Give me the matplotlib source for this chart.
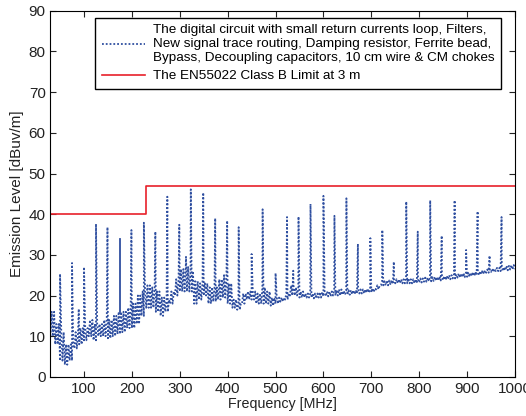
import numpy as np
import matplotlib.pyplot as plt

plt.rcParams['font.family'] = ['Liberation Sans', 'DejaVu Sans']

# noise floor band read every 10 MHz (lower / upper edge of the ripple)
band_freq = list(range(30, 1001, 10))
band_low = [10, 8, 4, 3, 4, 7, 8, 9, 10, 9,
            10, 10, 9.5, 10, 10.5, 11, 12, 12, 13, 15,
            17, 17, 16, 15, 16, 18, 20, 21, 21, 21,
            18, 19, 20, 18, 18.5, 19, 19.5, 18, 17, 16.5,
            18, 19, 19, 18, 18, 18, 17.5, 18, 18.5, 19,
            20, 20, 19.5, 19.5, 19.5, 19.3, 19.5, 19.8, 19.8, 20,
            20, 20.2, 20.2, 20.3, 20.5, 20.5, 20.7, 20.8, 21.5, 22.5,
            22.5, 22.8, 23, 23, 23, 23, 23, 23.2, 23.4, 23.5,
            23.6, 23.7, 23.8, 24, 24.2, 24.4, 24.5, 24.6, 24.8, 25,
            25.3, 25.6, 25.8, 26, 26, 26.2, 26.4, 26.5]
band_high = [16, 13, 11, 8, 8, 11, 12, 12, 14, 13,
             13, 14, 14, 15, 16, 16, 17, 18, 20, 21,
             22.5, 22, 21, 19.5, 19, 21, 24, 26.5, 27, 26,
             23.5, 23, 23, 22, 22, 24, 25, 23, 19, 18,
             20.5, 21, 21, 20.5, 22, 21, 19.5, 19.5, 19.5, 20.5,
             22.5, 22, 21, 20.5, 20.5, 20.5, 20.8, 21, 21, 21.3,
             21.5, 21.2, 21.3, 21.3, 21.5, 21.5, 21.7, 21.8, 22.5, 23.5,
             23.7, 23.8, 24, 24, 24.2, 24, 24, 24.2, 24.4, 24.5,
             24.6, 24.7, 24.8, 25, 25.2, 25.4, 25.5, 25.6, 25.8, 26,
             26.2, 26.4, 26.6, 26.8, 27, 27.3, 27.5, 28]

# harmonic peaks
spike_freq = [50, 75, 89, 100, 125, 149, 199, 225, 249, 274,
              299, 313, 323, 349, 374, 399, 423, 450, 473, 500,
              524, 537, 548, 573, 600, 623, 648, 672, 698, 723,
              747, 773, 797, 823, 847, 874, 898, 922, 947, 972]
spike_peak = [25.3, 28, 16.7, 27, 37.6, 36.8, 36.1, 37.9, 35.7, 44.3,
              37.4, 29.5, 46.1, 45.3, 39, 38.4, 36.8, 30.2, 41.2, 25.5,
              39.3, 26.1, 39.4, 42.5, 44.5, 39.6, 43.9, 32.7, 34.1, 36.1,
              28.3, 43.1, 35.7, 43.4, 34.7, 43.4, 31.2, 40.7, 29.8, 39.3]

# single solid peak at 175 MHz
solid_freq = 175
solid_range = [16, 34]

# EN55022 class B limit (3 m)
limit_freq = [30, 230, 230, 1000]
limit_level = [40, 40, 47, 47]

# ripple: alternate lower / upper edge around each reading
pts = []
for f, lo, hi in zip(band_freq, band_low, band_high):
    pts += [(f, lo), (f + 2.5, hi), (f + 5, lo), (f + 7.5, hi)]
pts += list(zip(spike_freq, spike_peak))
pts.sort()
pts = [p for p in pts if p[0] <= 1000]
trace_f = [p[0] for p in pts]
trace_v = [p[1] for p in pts]

blue = '#2f4fa0'
fig = plt.figure(figsize=(5.26, 4.16), dpi=100)
ax = fig.add_axes([0.096, 0.094, 0.883, 0.88])

ax.plot(trace_f, trace_v, color=blue, linestyle=(0, (1, 1.1)), linewidth=1.3,
        label='The digital circuit with small return currents loop, Filters,\n'
              'New signal trace routing, Damping resistor, Ferrite bead,\n'
              'Bypass, Decoupling capacitors, 10 cm wire & CM chokes')
ax.plot([solid_freq, solid_freq], solid_range, color=blue, linewidth=1.3)
ax.plot(limit_freq, limit_level, color='#e8202a', linewidth=1.2,
        label='The EN55022 Class B Limit at 3 m')

ax.set_xlim(30, 1000)
ax.set_ylim(0, 90)
ax.set_xticks(range(100, 1001, 100))
ax.set_yticks(range(0, 91, 10))
ax.tick_params(direction='in', top=True, right=True, length=4, labelsize=11,
               colors='#222222')
ax.set_xlabel('Frequency [MHz]', fontsize=10.3, color='#222222', labelpad=1)
ax.set_ylabel('Emission Level [dBuv/m]', fontsize=11, color='#222222', labelpad=3)

leg = ax.legend(loc='upper right', bbox_to_anchor=(0.985, 1.0), fontsize=9.7,
                fancybox=False, edgecolor='black', framealpha=1,
                handlelength=3.2, borderpad=0.5, labelspacing=0.45,
                handletextpad=0.6, borderaxespad=0.5)
leg.get_frame().set_linewidth(1.0)

fig.savefig('out.png', dpi=100)
